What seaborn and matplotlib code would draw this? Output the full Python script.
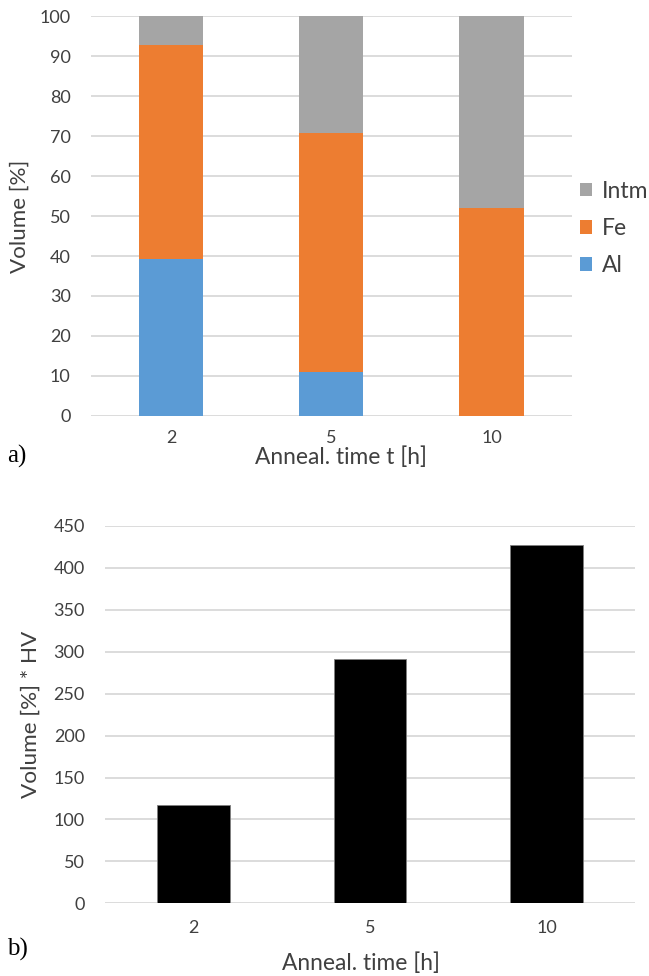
import numpy as np
import pandas as pd
import seaborn as sns
import matplotlib
matplotlib.use("Agg")
import matplotlib.pyplot as plt
from matplotlib.patches import Patch

# Annealing times and phase fractions (volume %)
times = ["2", "5", "10"]
al = [39.3, 11.0, 0.0]
fe = [53.6, 59.8, 52.0]
intm = [7.1, 29.2, 48.0]
# Volume fraction weighted by hardness
vol_hv = [117, 291, 427]

phases = ["Intm", "Fe", "Al"]
colors = {"Al": "#5B9BD5", "Fe": "#ED7D31", "Intm": "#A5A5A5"}
grid_color = "#D9D9D9"
text_color = "#404040"

sns.set_style("white")
plt.rcParams["font.family"] = ["Lato", "DejaVu Sans"]

fig = plt.figure(figsize=(6.49, 9.76), dpi=100)

# ---- a) stacked phase fractions ----
ax1 = fig.add_axes([0.1398, 0.5741, 0.7411, 0.4090])
df = pd.DataFrame({"t": times, "Al": al, "Fe": fe, "Intm": intm})
df["Fe_top"] = df["Al"] + df["Fe"]
df["Intm_top"] = df["Fe_top"] + df["Intm"]

# stacked bars: cumulative totals drawn back to front
sns.barplot(data=df, x="t", y="Intm_top", order=times, color=colors["Intm"],
            width=0.4, saturation=1, ax=ax1, linewidth=0, zorder=2)
sns.barplot(data=df, x="t", y="Fe_top", order=times, color=colors["Fe"],
            width=0.4, saturation=1, ax=ax1, linewidth=0, zorder=3)
sns.barplot(data=df, x="t", y="Al", order=times, color=colors["Al"],
            width=0.4, saturation=1, ax=ax1, linewidth=0, zorder=4)

ax1.set_ylim(0, 100)
ax1.set_yticks(np.arange(0, 101, 10))
ax1.set_xlim(-0.5, 2.5)
ax1.yaxis.grid(True, color=grid_color, linewidth=1.3, zorder=0)
ax1.set_axisbelow(True)
for s in ax1.spines.values():
    s.set_visible(False)
ax1.tick_params(axis="y", length=0, pad=14.5, labelsize=13, labelcolor=text_color)
ax1.tick_params(axis="x", length=0, pad=10.5, labelsize=13, labelcolor=text_color)
ax1.set_ylabel("Volume [%]", fontsize=16.1, color=text_color)
ax1.set_xlabel("Anneal. time t [h]", fontsize=16.4, color=text_color)
ax1.yaxis.set_label_coords(-0.147, 0.5)
ax1.xaxis.set_label_coords(0.520, -0.1048)
ax1.xaxis.label.set_va("center")
ax1.yaxis.label.set_va("center")

handles = [Patch(facecolor=colors[p], edgecolor="none", label=p) for p in phases]
fig.legend(handles=handles, loc="center left", bbox_to_anchor=(580 / 649, 1 - 228.5 / 976),
           frameon=False, fontsize=16.5, handlelength=0.52, handleheight=0.52,
           handletextpad=0.44, labelspacing=0.71, labelcolor=text_color,
           borderpad=0, borderaxespad=0)

fig.text(7 / 649, 1 - 456 / 976, "a)", family="Liberation Serif", fontsize=18,
         va="center", ha="left", color="black")

# ---- b) volume * hardness ----
ax2 = fig.add_axes([0.1618, 0.0745, 0.8166, 0.3866])
df2 = pd.DataFrame({"t": times, "v": vol_hv})
sns.barplot(data=df2, x="t", y="v", order=times, color="black", width=0.41,
            saturation=1, ax=ax2, edgecolor="#7F7F7F", linewidth=0.6, zorder=2)
ax2.set_ylim(0, 450)
ax2.set_yticks(np.arange(0, 451, 50))
ax2.set_xlim(-0.5, 2.5)
ax2.yaxis.grid(True, color=grid_color, linewidth=1.3, zorder=0)
ax2.set_axisbelow(True)
for s in ax2.spines.values():
    s.set_visible(False)
ax2.tick_params(axis="y", length=0, pad=14.5, labelsize=13, labelcolor=text_color)
ax2.tick_params(axis="x", length=0, pad=12, labelsize=13, labelcolor=text_color)
ax2.set_ylabel("Volume [%] * HV", fontsize=16.2, color=text_color)
ax2.set_xlabel("Anneal. time [h]", fontsize=16.4, color=text_color)
ax2.yaxis.set_label_coords(-0.1406, 0.5)
ax2.xaxis.set_label_coords(0.483, -0.158)
ax2.xaxis.label.set_va("center")
ax2.yaxis.label.set_va("center")

fig.text(7 / 649, 1 - 949 / 976, "b)", family="Liberation Serif", fontsize=18,
         va="center", ha="left", color="black")

fig.savefig("out.png", dpi=100)
